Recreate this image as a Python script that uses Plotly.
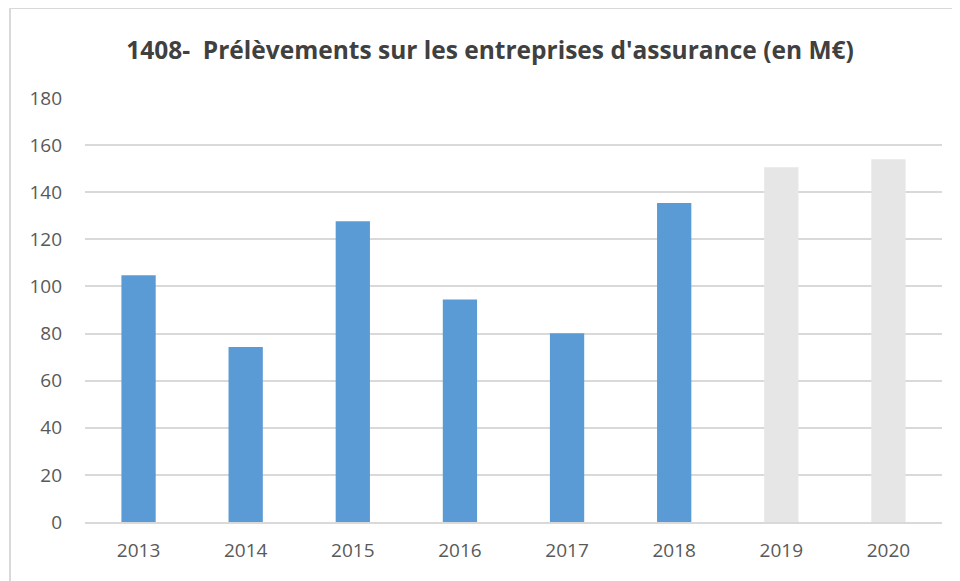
import plotly.graph_objects as go

years = ["2013", "2014", "2015", "2016", "2017", "2018", "2019", "2020"]
values = [104.7, 74.3, 127.7, 94.5, 80.1, 135.4, 150.6, 154.0]
bar_colors = ["#5B9BD5"] * 6 + ["#E7E6E6"] * 2
y_ticks = [0, 20, 40, 60, 80, 100, 120, 140, 160, 180]
title_text = "1408-  Prélèvements sur les entreprises d'assurance (en M€)"

fig = go.Figure()
fig.add_trace(go.Bar(
    x=years, y=values,
    marker=dict(color=bar_colors, line=dict(width=0)),
    width=0.32,
    hoverinfo="x+y",
))

# page body has an 8px margin, so figure coords are offset by 8px
W, H = 952, 573
ml, mr, mt, mb = 77, 18, 90, 59
pw = W - ml - mr
ph = H - mt - mb

def px_x(p):
    return (p - ml) / pw

def px_y(p):
    return (H - mb - p) / ph

fig.update_layout(
    width=W, height=H,
    margin=dict(l=ml, r=mr, t=mt, b=mb, autoexpand=False),
    paper_bgcolor="white",
    plot_bgcolor="white",
    showlegend=False,
    title=dict(
        text="<b>" + title_text + "</b>",
        x=482 / W, xref="container", xanchor="center",
        y=1 - 42 / H, yref="container", yanchor="middle",
        font=dict(family="Open Sans, sans-serif", size=24.5, color="#404040"),
    ),
    xaxis=dict(
        type="category",
        showgrid=False,
        showline=True, linecolor="#D9D9D9", linewidth=2,
        ticks="",
        tickfont=dict(family="Open Sans, sans-serif", size=19, color="#595959"),
        ticklabelstandoff=10,
    ),
    yaxis=dict(
        range=[0, 180],
        tickvals=y_ticks,
        showgrid=True, gridcolor="#D9D9D9", gridwidth=2,
        zeroline=False,
        showline=False,
        ticks="",
        tickfont=dict(family="Open Sans, sans-serif", size=19, color="#595959"),
        ticklabelstandoff=22,
    ),
    shapes=[
        dict(type="line", xref="paper", yref="paper",
             x0=px_x(2), x1=px_x(960), y0=px_y(0), y1=px_y(0),
             line=dict(color="#D9D9D9", width=2)),
        dict(type="line", xref="paper", yref="paper",
             x0=px_x(2), x1=px_x(2), y0=px_y(0), y1=px_y(581),
             line=dict(color="#D9D9D9", width=2)),
    ],
)

fig.write_html("out.html")
